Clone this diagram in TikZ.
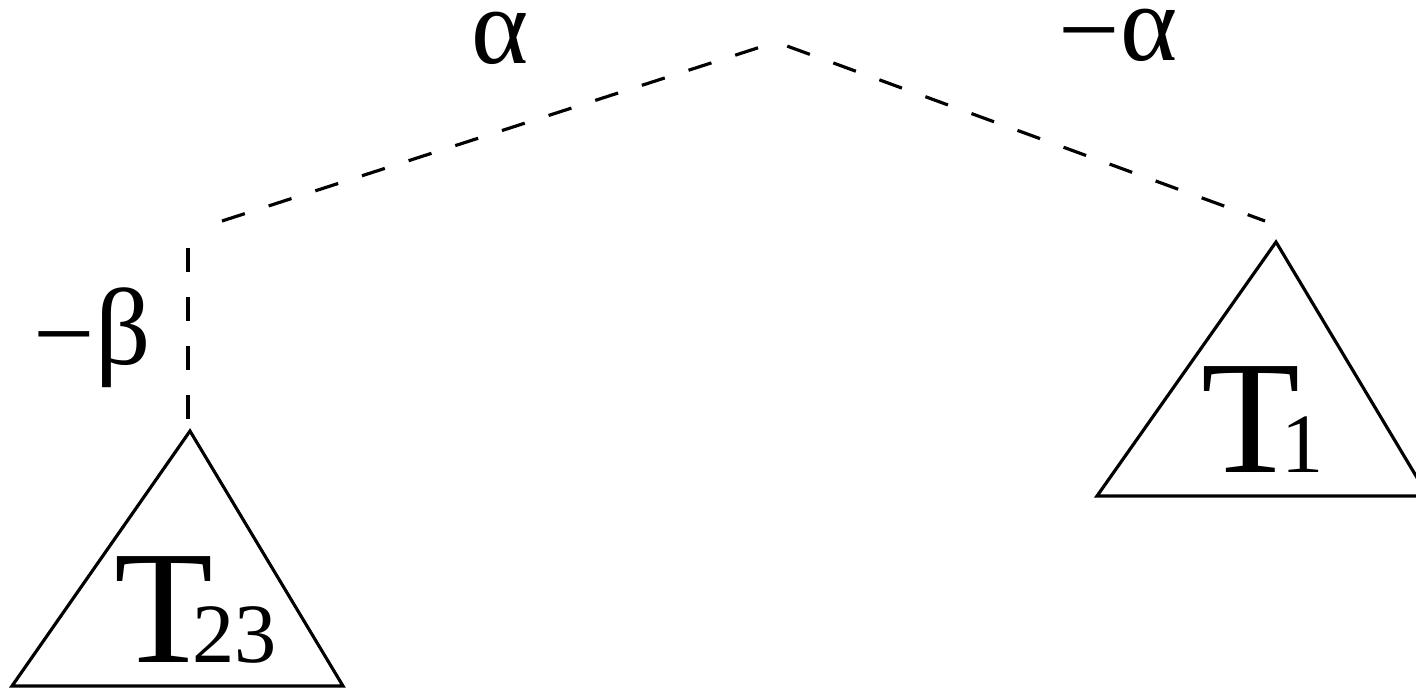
\documentclass[tikz,border=0pt]{standalone}
\usepackage{fontspec}
\setmainfont{Liberation Serif}
\usepackage{tikz}
\usetikzlibrary{positioning}

\begin{document}
\begin{tikzpicture}[
  x=0.01cm, y=-0.01cm,
  branch/.style={dash pattern=on 0.24cm off 0.25cm, line width=0.9pt},
  tree/.style={line width=0.9pt, line join=miter},
  lbl/.style={font=\fontsize{31}{31}\selectfont, inner sep=0pt},
  tname/.style={font=\fontsize{46}{46}\selectfont, inner sep=0pt, anchor=base west},
]
  \useasboundingbox (0,0) rectangle (1416,688);

  % subtrees
  \coordinate (t23) at (190,431);
  \coordinate (t1) at (1276,242);
  \draw[tree] (t23) -- (12,686) -- (343,686) -- cycle;
  \draw[tree] (t1) -- (1097,496) -- (1428,496) -- cycle;
  \node[tname] (n23) at (114,662) {T\kern-6pt{\fontsize{24}{24}\selectfont 23}};
  \node[tname] (n1) at (1201,472) {T\kern-5.5pt{\fontsize{24}{24}\selectfont 1}};

  % dashed branches
  \coordinate (root) at (776,42);
  \coordinate (elbow) at (222,221);
  \coordinate (vtop) at (188,245);
  \coordinate (vbot) at (188,419);
  \coordinate (rend) at (1265,221);
  \draw[branch] (vbot) -- (vtop);
  \draw[branch] (elbow) -- (root);
  \draw[branch, dash phase=0.37cm] (root) -- (rend);

  % weights
  \node[lbl] (wa) at (500,38) {α};
  \node[lbl] (wma) at (1118,38) {\raisebox{-1.7pt}{−}α};
  \node[lbl] (wmb) at (92,338) {\raisebox{-1.7pt}{−}β};
\end{tikzpicture}
\end{document}
